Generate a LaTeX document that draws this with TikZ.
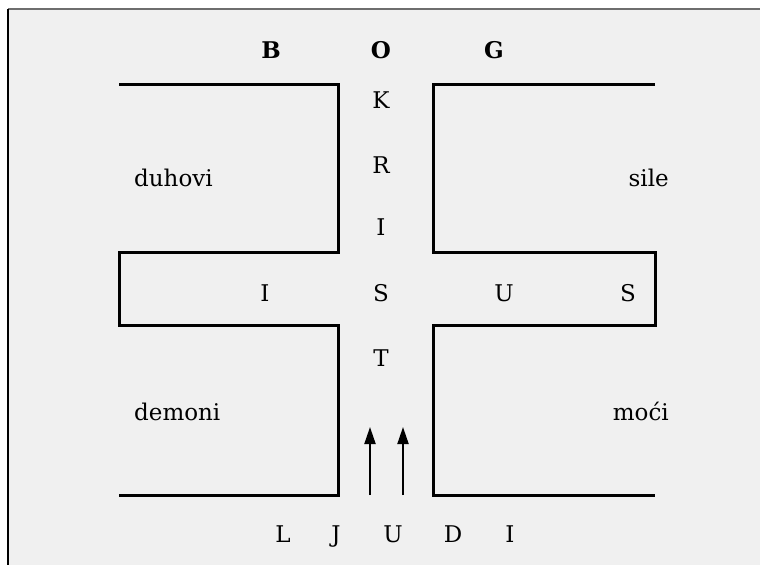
\documentclass[tikz,border=0pt]{standalone}
\usepackage{fontspec}
\setmainfont{DejaVu Serif}
\usetikzlibrary{arrows.meta}
\definecolor{bgc}{HTML}{F0F0F0}
\definecolor{framegray}{HTML}{6E6E6E}
\tikzset{
  wall/.style={line width=3pt, line join=miter, black},
  lbl/.style={font=\fontsize{23}{27}\selectfont, inner sep=0pt, anchor=base, text=black},
  lblw/.style={lbl, anchor=base west},
  lble/.style={lbl, anchor=base east},
  hdr/.style={lbl, font=\fontsize{23}{27}\selectfont\bfseries},
  uparrow/.style={line width=2pt, -{Triangle[length=17pt,width=11pt]}}
}
\begin{document}
\begin{tikzpicture}[x=1pt,y=-1pt]
\useasboundingbox (0,0) rectangle (760,565);
\fill[white] (0,0) rectangle (760,565);
\fill[bgc] (8,9) rectangle (760,565);
\draw[framegray, line width=1.8pt] (8,9) -- (760,9);
\draw[black, line width=1.8pt] (8,9) -- (8,565);
% cross walls
\draw[wall] (119,84) -- (338,84) -- (338,252) -- (119,252) -- (119,325) -- (338,325) -- (338,495) -- (119,495);
\draw[wall] (655,84) -- (433,84) -- (433,252) -- (655,252) -- (655,325) -- (433,325) -- (433,495) -- (655,495);
% header
\node[hdr] (B) at (271,58) {B};
\node[hdr] (O) at (381,58) {O};
\node[hdr] (G) at (494,58) {G};
% vertical word
\node[lbl] (K) at (381,108) {K};
\node[lbl] (R) at (381,173) {R};
\node[lbl] (I1) at (381,235) {I};
\node[lbl] (S1) at (381,301) {S};
\node[lbl] (T) at (381,366) {T};
% horizontal word
\node[lbl] (I2) at (265,301) {I};
\node[lbl] (U1) at (504,301) {U};
\node[lbl] (S2) at (628,301) {S};
% side words
\node[lblw] (duhovi) at (134,186) {duhovi};
\node[lble] (sile) at (669,186) {sile};
\node[lblw] (demoni) at (134,420) {demoni};
\node[lble] (moci) at (669,420) {moći};
% bottom word
\node[lbl] (L) at (283,542) {L};
\node[lbl] (J) at (336,542) {J};
\node[lbl] (U2) at (393,542) {U};
\node[lbl] (D) at (453,542) {D};
\node[lbl] (I3) at (510,542) {I};
% arrows
\coordinate (a1s) at (370,495);
\coordinate (a1e) at (370,427);
\coordinate (a2s) at (403,495);
\coordinate (a2e) at (403,427);
\draw[uparrow] (a1s) -- (a1e);
\draw[uparrow] (a2s) -- (a2e);
\end{tikzpicture}
\end{document}
